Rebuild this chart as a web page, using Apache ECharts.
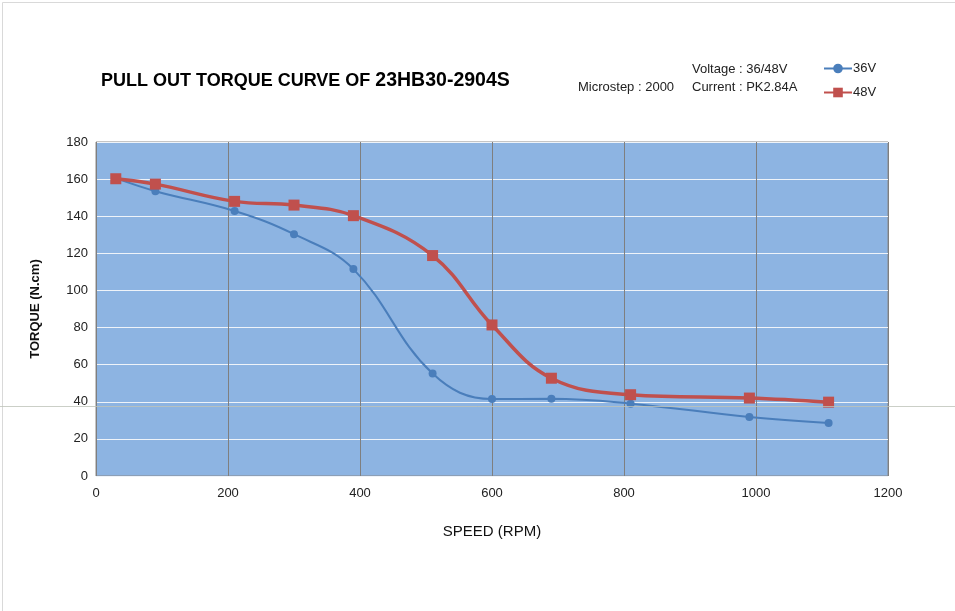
<!DOCTYPE html>
<html>
<head>
<meta charset="utf-8">
<script src="https://cdn.jsdelivr.net/npm/echarts@6/dist/echarts.min.js"></script>
<style>
  html, body { margin: 0; padding: 0; background: #fff; }
  #chart { width: 955px; height: 611px; }
</style>
</head>
<body>
<div id="chart"></div>
<script>
// speed points (RPM)
var speeds = [30, 90, 210, 300, 390, 510, 600, 690, 810, 990, 1110];
// torque (N.cm)
var torque36 = [160.5, 153.5, 142.8, 130.3, 111.5, 55.2, 41.5, 41.6, 39.0, 31.8, 28.5];
var torque48 = [160.2, 157.3, 148.0, 146.0, 140.3, 118.8, 81.4, 52.7, 43.8, 42.0, 39.8];
var seriesNames = ['36V', '48V'];

function pairs(xs, ys) {
    return xs.map(function (x, i) { return [x, ys[i]]; });
}

var myChart = echarts.init(document.getElementById('chart'));
myChart.setOption({
    backgroundColor: '#ffffff',
    textStyle: { fontFamily: 'Liberation Sans, Arial, sans-serif' },
    title: {
        text: '{a|PULL OUT TORQUE CURVE OF }{b|23HB30-2904S}',
        left: 96,
        top: 66,
        textStyle: {
            rich: {
                a: { fontSize: 18, fontWeight: 'bold', color: '#000' },
                b: { fontSize: 19.5, fontWeight: 'bold', color: '#000' }
            }
        }
    },
    legend: {
        orient: 'vertical',
        left: 818,
        top: 57,
        itemGap: 11,
        itemWidth: 28,
        itemHeight: 12,
        textStyle: { fontSize: 13, color: '#222', padding: [0, 0, 0, -4] },
        data: seriesNames
    },
    graphic: [
        { type: 'text', left: 692, top: 63, style: { text: 'Voltage : 36/48V', fontSize: 13, fill: '#222', fontFamily: 'Liberation Sans' } },
        { type: 'text', left: 578, top: 81, style: { text: 'Microstep : 2000', fontSize: 13, fill: '#222', fontFamily: 'Liberation Sans' } },
        { type: 'text', left: 692, top: 81, style: { text: 'Current : PK2.84A', fontSize: 13, fill: '#222', fontFamily: 'Liberation Sans' } },
        { type: 'rect', left: 0, top: 0, z: 100, silent: true,
          shape: { x: 0.5, y: 0.5, width: 953, height: 609 },
          style: { fill: 'none', stroke: '#d9d9d9', lineWidth: 1 } },
        { type: 'line', z: 100, silent: true,
          shape: { x1: 0, y1: 406.5, x2: 955, y2: 406.5 },
          style: { stroke: 'rgba(190,195,185,0.8)', lineWidth: 1 } }
    ],
    grid: {
        left: 96,
        right: 67,
        top: 142,
        bottom: 135,
        show: true,
        backgroundColor: '#8db4e2',
        borderColor: '#8a8a8a',
        borderWidth: 1
    },
    xAxis: {
        type: 'value',
        min: 0,
        max: 1200,
        interval: 200,
        name: 'SPEED (RPM)',
        nameLocation: 'middle',
        nameGap: 48,
        nameTextStyle: { fontSize: 15, color: '#111' },
        axisLine: { show: false },
        axisTick: { show: false },
        axisLabel: { fontSize: 13, color: '#222', margin: 11, formatter: function (v) { return String(v); } },
        splitLine: { show: true, lineStyle: { color: '#7f7f7f', width: 1 } }
    },
    yAxis: {
        type: 'value',
        min: 0,
        max: 180,
        interval: 20,
        name: 'TORQUE (N.cm)',
        nameLocation: 'middle',
        nameGap: 54,
        nameTextStyle: { fontSize: 13, fontWeight: 'bold', color: '#111' },
        axisLine: { show: false },
        axisTick: { show: false },
        axisLabel: { fontSize: 13, color: '#222', margin: 8 },
        splitLine: { show: true, lineStyle: { color: '#eef3f9', width: 1 } }
    },
    series: [{
        name: seriesNames[0],
        type: 'line',
        data: pairs(speeds, torque36),
        smooth: 0.4,
        symbol: 'circle',
        symbolSize: 8,
        z: 3,
        lineStyle: { color: '#4a7ebb', width: 2 },
        itemStyle: { color: '#4a7ebb' }
    }, {
        name: seriesNames[1],
        type: 'line',
        data: pairs(speeds, torque48),
        smooth: 0.4,
        symbol: 'rect',
        symbolSize: 11,
        z: 4,
        lineStyle: { color: '#c0504d', width: 3.5 },
        itemStyle: { color: '#c0504d' }
    }]
});
</script>
</body>
</html>
